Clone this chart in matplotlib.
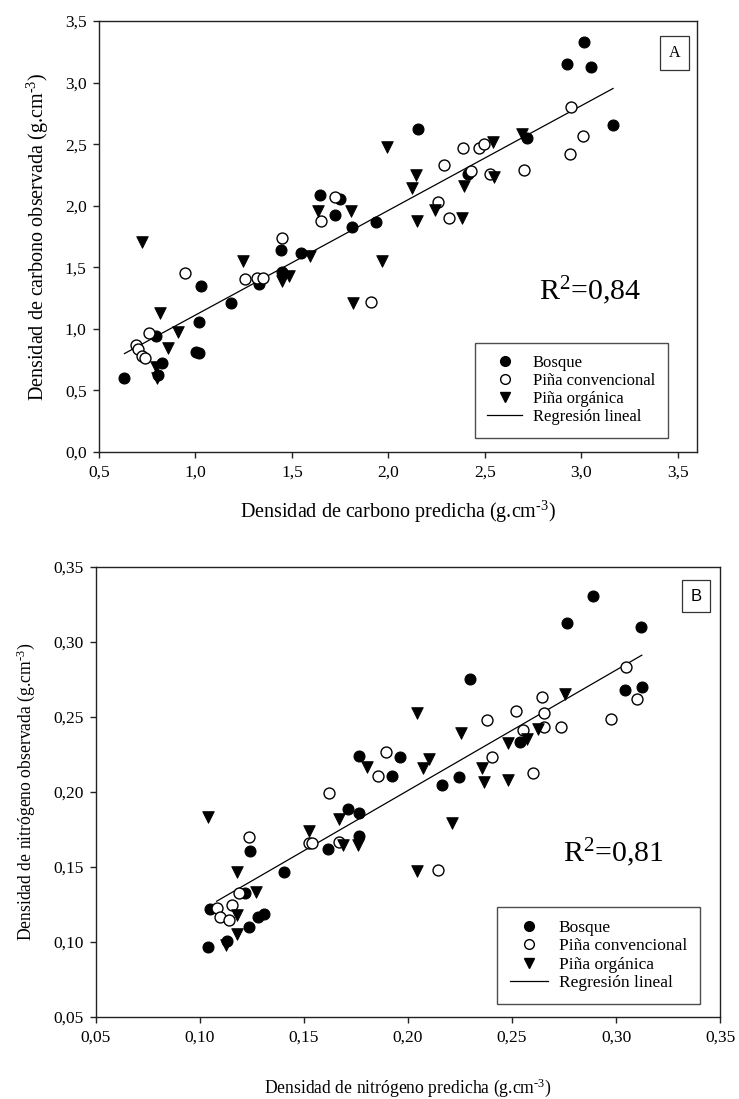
import numpy as np
import matplotlib
matplotlib.use('Agg')
import matplotlib.pyplot as plt
from matplotlib.lines import Line2D

plt.rcParams['font.family'] = ['Liberation Serif', 'DejaVu Serif']
plt.rcParams['mathtext.fontset'] = 'custom'
plt.rcParams['mathtext.rm'] = 'Liberation Serif'
plt.rcParams['mathtext.it'] = 'Liberation Serif:italic'
plt.rcParams['mathtext.bf'] = 'Liberation Serif:bold'

# ---------------- Panel A : carbon ----------------
a_bosque_x = [0.632, 0.794, 0.825, 0.808, 1.005, 1.018, 1.016, 1.029, 1.185, 1.327, 1.442, 1.447,
              1.547, 1.648, 1.721, 1.750, 1.809, 1.934, 2.154, 2.414, 2.719, 2.927, 3.013, 3.052, 3.165]
a_bosque_y = [0.601, 0.938, 0.723, 0.627, 0.815, 0.800, 1.054, 1.345, 1.208, 1.362, 1.641, 1.461,
              1.615, 2.083, 1.926, 2.056, 1.827, 1.865, 2.623, 2.260, 2.550, 3.151, 3.326, 3.123, 2.652]
a_conv_x = [0.691, 0.701, 0.725, 0.740, 0.757, 0.948, 1.259, 1.320, 1.352, 1.449, 1.650, 1.724, 1.909,
            2.257, 2.286, 2.313, 2.389, 2.426, 2.470, 2.497, 2.529, 2.705, 2.940, 2.947, 3.011]
a_conv_y = [0.868, 0.836, 0.776, 0.761, 0.967, 1.455, 1.403, 1.412, 1.415, 1.737, 1.876, 2.074, 1.220,
            2.033, 2.327, 1.900, 2.472, 2.280, 2.466, 2.498, 2.260, 2.289, 2.420, 2.800, 2.565]
a_org_x = [0.725, 0.796, 0.801, 0.818, 0.857, 0.911, 1.244, 1.447, 1.484, 1.596, 1.635, 1.807, 1.816,
           1.966, 1.995, 2.122, 2.142, 2.147, 2.240, 2.384, 2.394, 2.541, 2.548, 2.695]
a_org_y = [1.708, 0.688, 0.601, 1.130, 0.842, 0.976, 1.548, 1.388, 1.432, 1.592, 1.961, 1.961, 1.208,
           1.548, 2.475, 2.144, 2.248, 1.873, 1.969, 1.897, 2.158, 2.521, 2.234, 2.579]
a_slope, a_intercept = 0.850, 0.262
a_line_range = [0.632, 3.165]
a_r2 = "0,84"
a_ticks_x = [0.5, 1.0, 1.5, 2.0, 2.5, 3.0, 3.5]
a_ticklabels_x = ["0,5", "1,0", "1,5", "2,0", "2,5", "3,0", "3,5"]
a_ticks_y = [0.0, 0.5, 1.0, 1.5, 2.0, 2.5, 3.0, 3.5]
a_ticklabels_y = ["0,0", "0,5", "1,0", "1,5", "2,0", "2,5", "3,0", "3,5"]

# ---------------- Panel B : nitrogen ----------------
b_bosque_x = [0.1037, 0.1048, 0.1128, 0.1216, 0.1237, 0.1240, 0.1280, 0.1309, 0.1404, 0.1617, 0.1713,
              0.1764, 0.1764, 0.1766, 0.1922, 0.1963, 0.2163, 0.2244, 0.2298, 0.2538, 0.2766, 0.2891,
              0.3045, 0.3119, 0.3125]
b_bosque_y = [0.0969, 0.1218, 0.1009, 0.1325, 0.1102, 0.1609, 0.1169, 0.1187, 0.1469, 0.1618, 0.1885,
              0.1858, 0.1707, 0.2242, 0.2107, 0.2231, 0.2047, 0.2102, 0.2755, 0.2331, 0.3125, 0.3307,
              0.2680, 0.3098, 0.2702]
b_conv_x = [0.1083, 0.1096, 0.1141, 0.1152, 0.1189, 0.1236, 0.1526, 0.1537, 0.1622, 0.1668, 0.1854,
            0.1893, 0.2146, 0.2378, 0.2404, 0.2519, 0.2554, 0.2603, 0.2644, 0.2654, 0.2654, 0.2734,
            0.2975, 0.3048, 0.3100]
b_conv_y = [0.1229, 0.1165, 0.1147, 0.1247, 0.1325, 0.1702, 0.1658, 0.1658, 0.1991, 0.1667, 0.2107,
            0.2267, 0.1481, 0.2482, 0.2235, 0.2540, 0.2413, 0.2129, 0.2631, 0.2529, 0.2435, 0.2435,
            0.2487, 0.2835, 0.2620]
b_org_x = [0.1040, 0.1125, 0.1176, 0.1176, 0.1176, 0.1269, 0.1526, 0.1670, 0.1686, 0.1758, 0.1804,
           0.2045, 0.2044, 0.2070, 0.2102, 0.2210, 0.2253, 0.2354, 0.2367, 0.2479, 0.2479, 0.2571,
           0.2626, 0.2756]
b_org_y = [0.1835, 0.0980, 0.1053, 0.1180, 0.1469, 0.1331, 0.1742, 0.1818, 0.1647, 0.1647, 0.2169,
           0.2525, 0.1476, 0.2158, 0.2220, 0.1795, 0.2395, 0.2158, 0.2065, 0.2329, 0.2080, 0.2351,
           0.2420, 0.2653]
b_slope, b_intercept = 0.8025, 0.0405
b_line_range = [0.108, 0.3124]
b_r2 = "0,81"
b_ticks = [0.05, 0.10, 0.15, 0.20, 0.25, 0.30, 0.35]
b_ticklabels = ["0,05", "0,10", "0,15", "0,20", "0,25", "0,30", "0,35"]

legend_labels = ["Bosque", "Piña convencional", "Piña orgánica", "Regresión lineal"]

W, H = 739, 1099
fig = plt.figure(figsize=(W / 100, H / 100), dpi=100)

UNIT = r"(g.cm$^{\text{-3}}$)"


def px_axes(left, top, right, bottom):
    return fig.add_axes([left / W, 1 - bottom / H, (right - left) / W, (bottom - top) / H])


def draw_panel(ax, bx, by, cx, cy, ox, oy, slope, intercept, lrange):
    ms = 62
    ax.scatter(bx, by, s=ms, marker='o', facecolor='black', edgecolor='black', linewidth=0.8, zorder=3)
    ax.scatter(cx, cy, s=ms, marker='o', facecolor='white', edgecolor='black', linewidth=1.0, zorder=3)
    ax.scatter(ox, oy, s=70, marker='v', facecolor='black', edgecolor='black', linewidth=0.6, zorder=3)
    xs = np.array(lrange)
    ax.plot(xs, slope * xs + intercept, color='black', lw=0.9, zorder=2)
    for s in ['top', 'right', 'bottom', 'left']:
        ax.spines[s].set_linewidth(1.0)
        ax.spines[s].set_color('#222222')
    ax.tick_params(direction='out', length=4, width=1.0, top=False, right=False, pad=5,
                   labelsize=12.5, color='#222222')


def legend_handles():
    return [
        Line2D([], [], ls='none', marker='o', color='black', markerfacecolor='black', markersize=7),
        Line2D([], [], ls='none', marker='o', color='black', markerfacecolor='white', markersize=7,
               markeredgewidth=1.0),
        Line2D([], [], ls='none', marker='v', color='black', markerfacecolor='black', markersize=7.5),
        Line2D([], [], color='black', lw=0.9),
    ]


# ---- Panel A ----
axA = px_axes(99, 21, 697, 452)
draw_panel(axA, a_bosque_x, a_bosque_y, a_conv_x, a_conv_y, a_org_x, a_org_y,
           a_slope, a_intercept, a_line_range)
axA.set_xlim(0.5, 3.6)
axA.set_ylim(0.0, 3.5)
axA.set_xticks(a_ticks_x)
axA.set_xticklabels(a_ticklabels_x)
axA.set_yticks(a_ticks_y)
axA.set_yticklabels(a_ticklabels_y)
axA.set_xlabel("Densidad de carbono predicha " + UNIT, fontsize=14.5, va='center')
axA.xaxis.set_label_coords(0.5, -0.139)
axA.set_ylabel("Densidad de carbono observada " + UNIT, fontsize=14.5, va='center')
axA.yaxis.set_label_coords(-0.103, 0.5)
axA.text(0.736, 0.354, "R$^{2}$=" + a_r2, transform=axA.transAxes, fontsize=21.5,
         ha='left', va='baseline')
axA.text(0.963, 0.926, "A", transform=axA.transAxes, fontsize=11.5, ha='center', va='center',
         bbox=dict(boxstyle='square,pad=0.55', facecolor='white', edgecolor='#333333', linewidth=0.9))
legA = axA.legend(legend_handles(), legend_labels, loc='lower right', bbox_to_anchor=(0.951, 0.033),
                  borderaxespad=0, fontsize=12, frameon=True, fancybox=False, edgecolor='#222222',
                  handlelength=2.1, handletextpad=0.65, labelspacing=0.12, borderpad=0.75)
legA.get_frame().set_linewidth(1.0)

# ---- Panel B ----
axB = px_axes(96, 567, 720, 1017)
draw_panel(axB, b_bosque_x, b_bosque_y, b_conv_x, b_conv_y, b_org_x, b_org_y,
           b_slope, b_intercept, b_line_range)
axB.set_xlim(0.05, 0.35)
axB.set_ylim(0.05, 0.35)
axB.set_xticks(b_ticks)
axB.set_xticklabels(b_ticklabels)
axB.set_yticks(b_ticks)
axB.set_yticklabels(b_ticklabels)
axB.set_xlabel("Densidad de nitrógeno predicha " + UNIT, fontsize=12.7, va='center')
axB.xaxis.set_label_coords(0.5, -0.158)
axB.set_ylabel("Densidad de nitrógeno observada " + UNIT, fontsize=12.7, va='center')
axB.yaxis.set_label_coords(-0.112, 0.5)
axB.text(0.749, 0.345, "R$^{2}$=" + b_r2, transform=axB.transAxes, fontsize=21.5,
         ha='left', va='baseline')
axB.text(0.962, 0.935, "B", transform=axB.transAxes, fontsize=12, ha='center', va='center',
         family=['Liberation Sans', 'DejaVu Sans'],
         bbox=dict(boxstyle='square,pad=0.5', facecolor='white', edgecolor='#333333', linewidth=0.9))
legB = axB.legend(legend_handles(), legend_labels, loc='lower right', bbox_to_anchor=(0.968, 0.029),
                  borderaxespad=0, fontsize=12.5, frameon=True, fancybox=False, edgecolor='#222222',
                  handlelength=2.2, handletextpad=0.6, labelspacing=0.12, borderpad=0.75)
legB.get_frame().set_linewidth(1.0)

fig.savefig("out.png", dpi=100)
